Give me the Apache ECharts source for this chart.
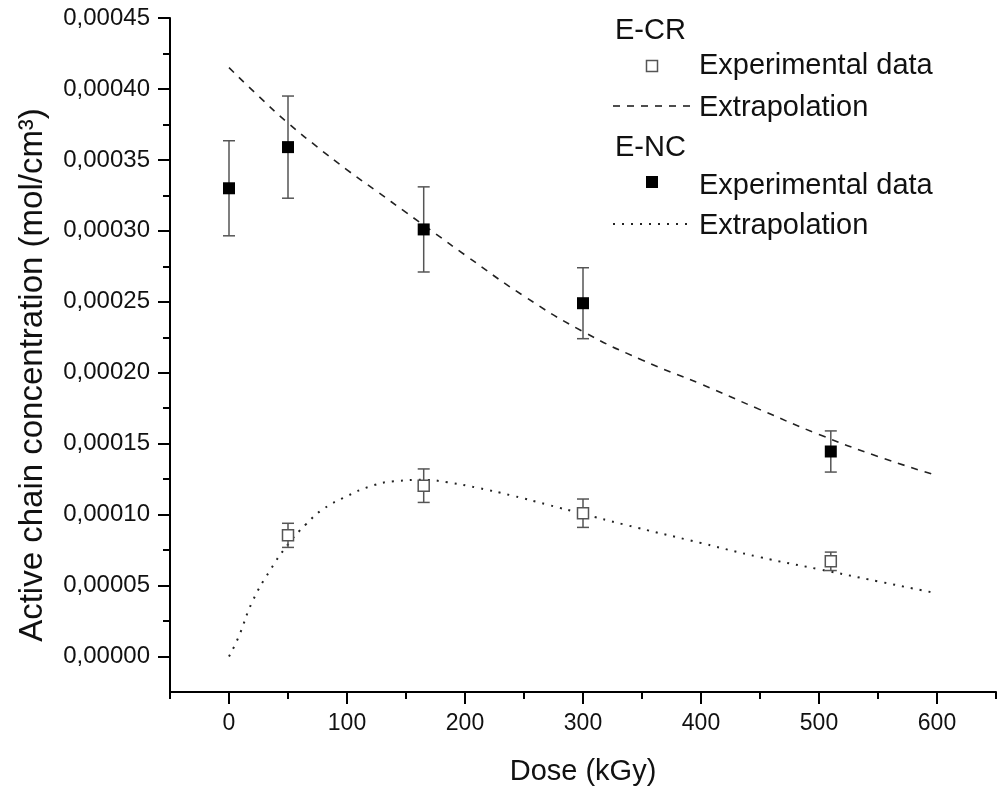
<!DOCTYPE html>
<html>
<head>
<meta charset="utf-8">
<script src="https://cdn.jsdelivr.net/npm/echarts@6/dist/echarts.min.js"></script>
<style>
html,body{margin:0;padding:0;background:#fff;}
#chart{width:997px;height:796px;}
</style>
</head>
<body>
<div id="chart"></div>
<script>
// ---- data ----
// Filled squares (dashed extrapolation in plot)
const doseFilled = [0, 50, 165, 300, 510];
const concFilled = [3.30e-4, 3.59e-4, 3.01e-4, 2.49e-4, 1.445e-4];
const errFilled  = [3.35e-5, 3.6e-5, 3.0e-5, 2.5e-5, 1.45e-5];
// Open squares (dotted extrapolation in plot)
const doseOpen = [50, 165, 300, 510];
const concOpen = [0.854e-4, 1.204e-4, 1.010e-4, 0.671e-4];
const errOpen  = [0.085e-4, 0.118e-4, 0.100e-4, 0.065e-4];
// Dashed extrapolation curve
const doseDashed = [0, 25, 50, 75, 100, 125, 150, 175, 200, 250, 300, 350, 400, 450, 500, 550, 600];
const concDashed = [4.15e-4, 3.95e-4, 3.76e-4, 3.59e-4, 3.43e-4, 3.28e-4, 3.13e-4, 2.98e-4, 2.83e-4, 2.54e-4, 2.29e-4, 2.09e-4, 1.92e-4, 1.74e-4, 1.565e-4, 1.41e-4, 1.275e-4];
// Dotted extrapolation curve
const doseDotted = [0, 8, 20, 35, 50, 65, 80, 100, 120, 140, 165, 185, 210, 240, 270, 300, 335, 400, 450, 500, 550, 600];
const concDotted = [0, 0.136e-4, 0.39e-4, 0.61e-4, 0.79e-4, 0.93e-4, 1.04e-4, 1.13e-4, 1.20e-4, 1.235e-4, 1.245e-4, 1.228e-4, 1.19e-4, 1.134e-4, 1.07e-4, 1.005e-4, 0.93e-4, 0.80e-4, 0.70e-4, 0.615e-4, 0.53e-4, 0.445e-4];
// Ticks
const xMajorTicks = [0, 100, 200, 300, 400, 500, 600];
const xMinorTicks = [-50, 50, 150, 250, 350, 450, 550, 650];
const yMajorTicks = [0, 0.00005, 0.0001, 0.00015, 0.0002, 0.00025, 0.0003, 0.00035, 0.0004, 0.00045];
const yTickLabels = ['0,00000','0,00005','0,00010','0,00015','0,00020','0,00025','0,00030','0,00035','0,00040','0,00045'];
const yMinorTicks = [0.000025, 0.000075, 0.000125, 0.000175, 0.000225, 0.000275, 0.000325, 0.000375, 0.000425];
// Legend text
const legendGroups = ['E-CR', 'E-NC'];
const legendItems = ['Experimental data', 'Extrapolation'];

const FONT = '"Liberation Sans", Arial, sans-serif';
const chart = echarts.init(document.getElementById('chart'), null, {renderer: 'canvas'});

function errData(xs, ys, es) {
  return xs.map((x, i) => [x, ys[i] - es[i], ys[i] + es[i]]);
}
function errRender(params, api) {
  const x = api.value(0);
  const lo = api.coord([x, api.value(1)]);
  const hi = api.coord([x, api.value(2)]);
  const c = 6;
  const st = {stroke: '#555', lineWidth: 1.5};
  return {type: 'group', children: [
    {type: 'line', shape: {x1: lo[0], y1: lo[1], x2: hi[0], y2: hi[1]}, style: st},
    {type: 'line', shape: {x1: lo[0] - c, y1: lo[1], x2: lo[0] + c, y2: lo[1]}, style: st},
    {type: 'line', shape: {x1: hi[0] - c, y1: hi[1], x2: hi[0] + c, y2: hi[1]}, style: st}
  ]};
}
function zip(a, b) { return a.map((v, i) => [v, b[i]]); }

function txt(text, x, y, size) {
  return {type: 'text', x: x, y: y, style: {text: text, font: size + 'px ' + FONT, fill: '#111',
    align: 'left', verticalAlign: 'middle', textAlign: 'left', textVerticalAlign: 'middle'}};
}

const option = {
  backgroundColor: '#fff',
  animation: false,
  grid: {left: 170, top: 18, width: 826, height: 674, containLabel: false},
  xAxis: [{
    type: 'value', min: -50, max: 650, interval: 50, position: 'bottom',
    name: 'Dose (kGy)', nameLocation: 'middle', nameGap: 65,
    nameTextStyle: {fontFamily: FONT, fontSize: 29, color: '#111'},
    axisLine: {show: true, onZero: false, lineStyle: {color: '#000', width: 2}},
    axisTick: {show: true, inside: false, length: 12, customValues: xMajorTicks, lineStyle: {color: '#000', width: 2}},
    axisLabel: {show: true, customValues: xMajorTicks, margin: 20, fontFamily: FONT, fontSize: 23, color: '#111',
      formatter: v => String(v)},
    splitLine: {show: false}
  }, {
    type: 'value', min: -50, max: 650, interval: 50, position: 'bottom', gridIndex: 0,
    axisLine: {show: false, onZero: false},
    axisTick: {show: true, length: 7, customValues: xMinorTicks, lineStyle: {color: '#000', width: 2}},
    axisLabel: {show: false},
    splitLine: {show: false}
  }],
  yAxis: [{
    type: 'value', min: -0.000025, max: 0.00045, interval: 0.000025, position: 'left',
    name: 'Active chain concentration (mol/cm³)', nameLocation: 'middle', nameGap: 121, nameRotate: 90,
    nameTextStyle: {fontFamily: FONT, fontSize: 33, color: '#111', padding: [0, 40, 0, 0]},
    axisLine: {show: true, onZero: false, lineStyle: {color: '#000', width: 2}},
    axisTick: {show: true, length: 12, customValues: yMajorTicks, lineStyle: {color: '#000', width: 2}},
    axisLabel: {show: true, customValues: yMajorTicks, margin: 20, fontFamily: FONT, fontSize: 24, color: '#111',
      formatter: v => {
        let best = 0, bd = Infinity;
        yMajorTicks.forEach((t, i) => { const d = Math.abs(t - v); if (d < bd) { bd = d; best = i; } });
        return yTickLabels[best];
      }},
    splitLine: {show: false}
  }, {
    type: 'value', min: -0.000025, max: 0.00045, interval: 0.000025, position: 'left', gridIndex: 0,
    axisLine: {show: false, onZero: false},
    axisTick: {show: true, length: 7, customValues: yMinorTicks, lineStyle: {color: '#000', width: 2}},
    axisLabel: {show: false},
    splitLine: {show: false}
  }],
  series: [
    {
      name: 'dashed', type: 'line', xAxisIndex: 0, yAxisIndex: 0, data: zip(doseDashed, concDashed),
      showSymbol: false, smooth: true, silent: true, z: 2,
      lineStyle: {color: '#222', width: 1.6, type: [7, 7]}
    },
    {
      name: 'dotted', type: 'line', xAxisIndex: 0, yAxisIndex: 0, data: zip(doseDotted, concDotted),
      showSymbol: false, smooth: true, silent: true, z: 2,
      lineStyle: {color: '#222', width: 2, type: [2, 7]}
    },
    {
      name: 'errFilled', type: 'custom', xAxisIndex: 0, yAxisIndex: 0, renderItem: errRender,
      data: errData(doseFilled, concFilled, errFilled), z: 3, silent: true
    },
    {
      name: 'errOpen', type: 'custom', xAxisIndex: 0, yAxisIndex: 0, renderItem: errRender,
      data: errData(doseOpen, concOpen, errOpen), z: 3, silent: true
    },
    {
      name: 'filled', type: 'scatter', xAxisIndex: 0, yAxisIndex: 0, data: zip(doseFilled, concFilled),
      symbol: 'rect', symbolSize: 12, z: 4, itemStyle: {color: '#000', opacity: 1}
    },
    {
      name: 'open', type: 'scatter', xAxisIndex: 0, yAxisIndex: 0, data: zip(doseOpen, concOpen),
      symbol: 'rect', symbolSize: 11, z: 4, itemStyle: {color: '#fff', borderColor: '#555', borderWidth: 1.5, opacity: 1}
    }
  ],
  graphic: [
    txt(legendGroups[0], 615, 31, 29),
    {type: 'rect', shape: {x: 646.5, y: 60.5, width: 11, height: 11}, style: {fill: '#fff', stroke: '#555', lineWidth: 1.5}},
    txt(legendItems[0], 699, 66, 29),
    {type: 'line', shape: {x1: 613, y1: 106, x2: 690, y2: 106}, style: {stroke: '#222', lineWidth: 1.6, lineDash: [7, 7]}},
    txt(legendItems[1], 699, 108, 29),
    txt(legendGroups[1], 615, 148, 29),
    {type: 'rect', shape: {x: 646, y: 176, width: 12, height: 12}, style: {fill: '#000'}},
    txt(legendItems[0], 699, 186, 29),
    {type: 'line', shape: {x1: 613, y1: 224, x2: 690, y2: 224}, style: {stroke: '#222', lineWidth: 2, lineDash: [2, 7]}},
    txt(legendItems[1], 699, 226, 29)
  ]
};
chart.setOption(option);
</script>
</body>
</html>
